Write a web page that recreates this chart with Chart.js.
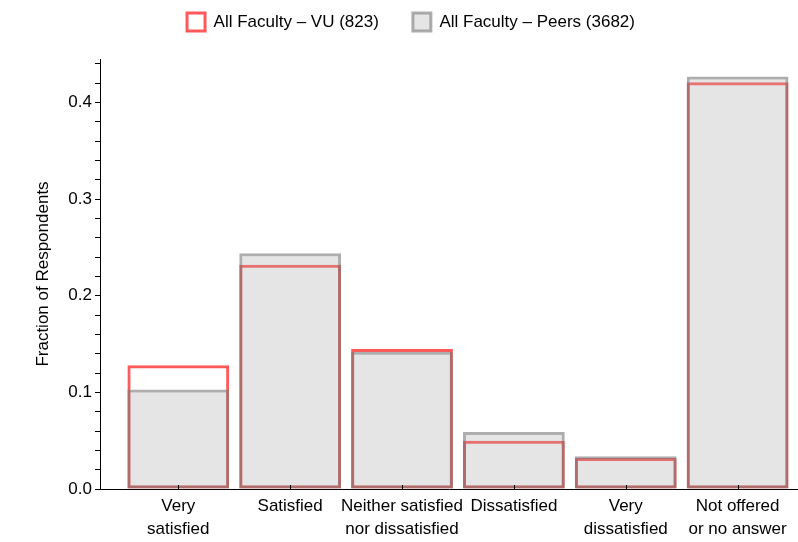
<!DOCTYPE html>
<html>
<head>
<meta charset="utf-8">
<script src="https://cdn.jsdelivr.net/npm/chart.js@4/dist/chart.umd.min.js"></script>
<style>
  html, body { margin: 0; padding: 0; background: #fff; }
  #wrap { width: 798px; height: 542px; position: relative; }
</style>
</head>
<body>
<div id="wrap"><canvas id="chartBar"></canvas></div>
<script>
var categories = [['Very', 'satisfied'], 'Satisfied', ['Neither satisfied', 'nor dissatisfied'], 'Dissatisfied', ['Very', 'dissatisfied'], ['Not offered', 'or no answer']];
var vuValues = [0.128, 0.232, 0.145, 0.050, 0.032, 0.421];
var peerValues = [0.103, 0.244, 0.142, 0.059, 0.034, 0.427];
var yTicks = [0, 0.02, 0.04, 0.06, 0.08, 0.1, 0.12, 0.14, 0.16, 0.18, 0.2, 0.22, 0.24, 0.26, 0.28, 0.3, 0.32, 0.34, 0.36, 0.38, 0.4, 0.42, 0.44];
var yLabels = { 0: '0.0', 0.1: '0.1', 0.2: '0.2', 0.3: '0.3', 0.4: '0.4' };

var font = { family: "'Liberation Sans', Arial, sans-serif", size: 17, lineHeight: 1.35 };

// little inward ticks on the category axis
var xTickMarks = {
	id: 'xTickMarks',
	afterDatasetsDraw: function(chart) {
		var x = chart.scales.x, ctx = chart.ctx;
		ctx.save();
		ctx.strokeStyle = '#000';
		ctx.lineWidth = 1;
		x.ticks.forEach(function(t) {
			var px = Math.round(x.getPixelForValue(t.value)) + 0.5;
			ctx.beginPath();
			ctx.moveTo(px, x.top);
			ctx.lineTo(px, x.top - 4);
			ctx.stroke();
		});
		ctx.restore();
	}
};

// push plot area down under the legend, nudge legend right
var legendSpace = {
	id: 'legendSpace',
	beforeInit: function(chart) {
		var lg = chart.legend;
		var fit = lg.fit;
		lg.fit = function() {
			fit.bind(lg)();
			this.height += 18;
		};
		var draw = lg.draw;
		lg.draw = function() {
			var ctx = chart.ctx;
			ctx.save();
			ctx.translate(12, 0);
			draw.bind(lg)();
			ctx.restore();
		};
	}
};

new Chart(document.getElementById('chartBar'), {
	type: 'bar',
	data: {
		datasets: [{
			label: 'All Faculty \u2013 VU (823)',
			data: vuValues.map(function(v, i) { return { x: i, y: v }; }),
			backgroundColor: 'rgba(255,255,255,0)',
			borderColor: 'rgb(255,90,90)',
			borderWidth: 3,
			borderSkipped: false,
			order: 1
		}, {
			label: 'All Faculty \u2013 Peers (3682)',
			data: peerValues.map(function(v, i) { return { x: i, y: v }; }),
			backgroundColor: 'rgba(170,170,170,0.3)',
			borderColor: 'rgba(120,120,120,0.6)',
			borderWidth: 3,
			borderSkipped: false,
			order: 0
		}]
	},
	options: {
		responsive: true,
		maintainAspectRatio: false,
		animation: false,
		grouped: false,
		barPercentage: 0.91,
		categoryPercentage: 1,
		layout: { padding: { top: -21, right: 0, left: 0, bottom: 0 } },
		plugins: {
			legend: {
				position: 'top',
				labels: {
					boxWidth: 18,
					boxHeight: 18,
					padding: 34,
					color: '#000',
					font: font,
					sort: function(a, b) { return a.datasetIndex - b.datasetIndex; }
				}
			},
			tooltip: { enabled: false }
		},
		scales: {
			x: {
				type: 'linear',
				offset: false,
				min: -0.7,
				max: 5.54,
				afterBuildTicks: function(scale) {
					scale.ticks = categories.map(function(c, i) { return { value: i }; });
				},
				afterFit: function(scale) { scale.height = 53; },
				ticks: {
					autoSkip: false,
					maxRotation: 0,
					padding: -2,
					color: '#000',
					font: font,
					callback: function(v) { return categories[v]; }
				},
				grid: { display: false },
				border: { display: true, color: '#000', width: 1 }
			},
			y: {
				min: 0,
				max: 0.445,
				afterBuildTicks: function(scale) {
					scale.ticks = yTicks.map(function(v) { return { value: v }; });
				},
				afterFit: function(scale) { scale.width = 100; },
				ticks: {
					autoSkip: false,
					padding: 3,
					color: '#000',
					font: font,
					callback: function(v) {
						var k = Math.round(v * 100) / 100;
						return yLabels[k] !== undefined ? yLabels[k] : '';
					}
				},
				grid: { display: true, drawOnChartArea: false, drawTicks: true, tickLength: 5, color: '#000' },
				border: { display: true, color: '#000', width: 1 },
				title: {
					display: true,
					text: 'Fraction of Respondents',
					color: '#000',
					font: font,
					padding: { top: 32, bottom: 0 }
				}
			}
		}
	},
	plugins: [xTickMarks, legendSpace]
});
</script>
</body>
</html>
